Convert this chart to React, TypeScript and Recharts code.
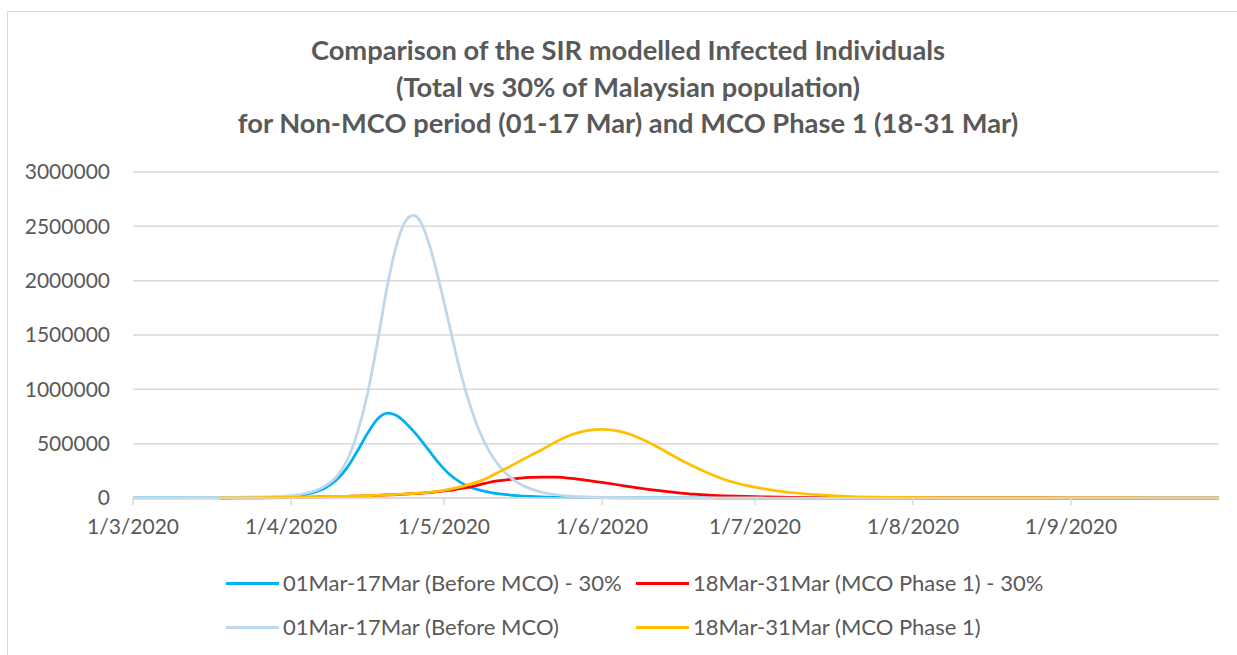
import React from 'react';
import { LineChart, Line, XAxis, YAxis, CartesianGrid } from 'recharts';

// day offset from 1 Mar 2020
const days = [0, 10, 17, 20, 25, 30, 35, 38, 40, 42, 44, 46, 48, 50, 52, 54, 55, 56, 58, 60, 62, 64, 66, 68, 70, 72, 74, 76, 78, 80, 83, 86, 89, 92, 95, 98, 101, 104, 107, 110, 113, 116, 120, 124, 127, 130, 134, 140, 145, 150, 160, 170, 185, 200, 213];

// 01Mar-17Mar (Before MCO) - 30%
const before30 = [200, 800, 1500, 2500, 5000, 13000, 45000, 100000, 170000, 280000, 430000, 595000, 730000, 782000, 750000, 665000, 615000, 560000, 440000, 320000, 220000, 150000, 102000, 72000, 52000, 37000, 27000, 19000, 14000, 10000, 7000, 5000, 3500, 2500, 1800, 1200, 800, 500, 300, 200, 100, 0, 0, 0, 0, 0, 0, 0, 0, 0, 0, 0, 0, 0, 0];

// 18Mar-31Mar (MCO Phase 1) - 30%
const mco30 = [null, null, 500, 1000, 2000, 4000, 8000, 11000, 13000, 15000, 18000, 20000, 24000, 28000, 32000, 37000, 40000, 43000, 50000, 60000, 70000, 85000, 100000, 123000, 145000, 160000, 172000, 182000, 189000, 193000, 191000, 180000, 163000, 143000, 122000, 100000, 80000, 63000, 48000, 35000, 26000, 20000, 14000, 10000, 7500, 5500, 3500, 2000, 1200, 700, 300, 100, 0, 0, 0];

// 01Mar-17Mar (Before MCO)
const before = [700, 2000, 4000, 6000, 10000, 18000, 55000, 120000, 200000, 350000, 600000, 960000, 1450000, 1980000, 2380000, 2580000, 2600000, 2570000, 2350000, 2000000, 1600000, 1200000, 870000, 610000, 420000, 285000, 190000, 127000, 84000, 55000, 30000, 17000, 10000, 6000, 3500, 2000, 1200, 700, 400, 250, 150, 100, 50, 0, 0, 0, 0, 0, 0, 0, 0, 0, 0, 0, 0];

// 18Mar-31Mar (MCO Phase 1)
const mco = [null, null, 500, 1000, 2500, 5000, 9000, 12000, 14000, 16000, 19000, 21000, 25000, 29000, 33000, 38000, 41000, 44000, 52000, 63000, 80000, 100000, 125000, 155000, 196000, 245000, 292000, 342000, 392000, 440000, 518000, 582000, 620000, 632000, 618000, 578000, 515000, 440000, 362000, 290000, 226000, 170000, 118000, 82000, 62000, 46000, 31000, 16000, 9000, 5000, 1500, 400, 50, 0, 0];

const monthTicks = [0, 31, 61, 92, 122, 153, 184];
const monthLabels = ['1/3/2020', '1/4/2020', '1/5/2020', '1/6/2020', '1/7/2020', '1/8/2020', '1/9/2020'];
const yTicks = [0, 500000, 1000000, 1500000, 2000000, 2500000, 3000000];

const titleLines = [
  'Comparison of the SIR modelled Infected Individuals',
  '(Total vs 30% of Malaysian population)',
  'for Non-MCO period (01-17 Mar) and MCO Phase 1 (18-31 Mar)',
];

const series = [
  { key: 'before30', name: '01Mar-17Mar (Before MCO) - 30%', color: '#00B0F0' },
  { key: 'mco30', name: '18Mar-31Mar (MCO Phase 1) - 30%', color: '#FF0000' },
  { key: 'before', name: '01Mar-17Mar (Before MCO)', color: '#BDD7EE' },
  { key: 'mco', name: '18Mar-31Mar (MCO Phase 1)', color: '#FFC000' },
];

const data = days.map((d, i) => ({
  day: d,
  before30: before30[i],
  mco30: mco30[i],
  before: before[i],
  mco: mco[i],
}));

const FONT = 'Lato, "Open Sans", sans-serif';
const TEXT = '#595959';

const legendPos = [
  { x: 226, y: 583 },
  { x: 636, y: 583 },
  { x: 226, y: 627 },
  { x: 636, y: 627 },
];

export default function App() {
  return (
    <div style={{ position: 'absolute', left: 0, top: 0, width: 1237, height: 655, background: '#fff', overflow: 'hidden', fontFamily: FONT }}>
      <div style={{ position: 'absolute', left: 7, top: 11, width: 1260, height: 700, border: '1px solid #D9D9D9', boxSizing: 'border-box' }} />
      {titleLines.map((t, i) => (
        <div key={i} style={{ position: 'absolute', left: 0, width: 1256, top: 50 + i * 36.5 - 18, height: 36, lineHeight: '36px', textAlign: 'center', fontWeight: 700, fontSize: 27.3, color: TEXT, whiteSpace: 'nowrap' }}>{t}</div>
      ))}
      <div style={{ position: 'absolute', left: 0, top: 0 }}>
        <LineChart width={1237} height={655} data={data} margin={{ top: 172, right: 18, bottom: 117, left: 0 }}>
          <CartesianGrid vertical={false} stroke="#D9D9D9" strokeWidth={1.5} />
          <XAxis
            dataKey="day"
            type="number"
            domain={[0, 213]}
            ticks={monthTicks}
            tickFormatter={(v: number) => monthLabels[monthTicks.indexOf(v)] ?? ''}
            height={40}
            axisLine={{ stroke: '#D9D9D9', strokeWidth: 1.5 }}
            tickLine={{ stroke: '#D9D9D9', strokeWidth: 1.5 }}
            tickSize={7}
            tickMargin={14}
            tick={{ fill: TEXT, fontSize: 21, fontFamily: FONT }}
            interval={0}
          />
          <YAxis
            type="number"
            domain={[0, 3000000]}
            ticks={yTicks}
            width={133}
            axisLine={false}
            tickLine={false}
            tickSize={0}
            tickMargin={23}
            tick={{ fill: TEXT, fontSize: 21, fontFamily: FONT }}
            interval={0}
          />
          {series.map((s) => (
            <Line
              key={s.key}
              type="monotone"
              dataKey={s.key}
              stroke={s.color}
              strokeWidth={2.75}
              dot={false}
              activeDot={false}
              isAnimationActive={false}
              connectNulls={false}
            />
          ))}
        </LineChart>
      </div>
      {series.map((s, i) => (
        <div key={s.key} style={{ position: 'absolute', left: legendPos[i].x, top: legendPos[i].y - 15, height: 30, display: 'flex', alignItems: 'center', whiteSpace: 'nowrap' }}>
          <div style={{ width: 53, height: 3, background: s.color, marginRight: 4 }} />
          <span style={{ fontSize: 22, color: TEXT, lineHeight: '30px' }}>{s.name}</span>
        </div>
      ))}
    </div>
  );
}
